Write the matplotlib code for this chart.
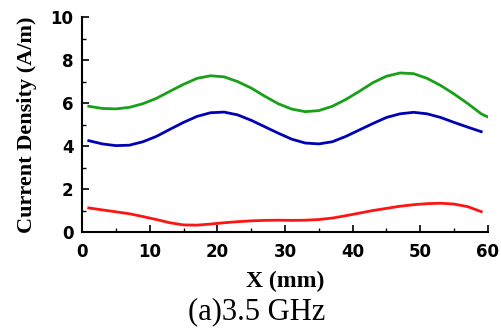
import matplotlib
matplotlib.use('Agg')
import matplotlib.pyplot as plt
from matplotlib.ticker import MultipleLocator

# values (X in mm, current density in A/m)
x = [1, 3, 5, 7, 9, 11, 13, 15, 17, 19, 21, 23, 25, 27, 29, 31, 33, 35, 37, 39,
     41, 43, 45, 47, 49, 51, 53, 55, 57, 59, 60]
green = [5.85, 5.75, 5.73, 5.80, 5.97, 6.22, 6.55, 6.87, 7.15, 7.27, 7.22, 7.00,
         6.70, 6.32, 5.97, 5.72, 5.60, 5.65, 5.85, 6.17, 6.55, 6.95, 7.25, 7.40,
         7.37, 7.15, 6.82, 6.42, 5.98, 5.50, 5.35]
blue = [4.25, 4.10, 4.02, 4.04, 4.20, 4.45, 4.78, 5.10, 5.38, 5.55, 5.58, 5.45,
        5.20, 4.90, 4.60, 4.32, 4.14, 4.10, 4.20, 4.45, 4.75, 5.05, 5.33, 5.50,
        5.57, 5.50, 5.33, 5.10, 4.88, 4.67]
red = [1.12, 1.03, 0.94, 0.85, 0.72, 0.58, 0.43, 0.33, 0.32, 0.37, 0.43, 0.48,
       0.52, 0.54, 0.55, 0.54, 0.55, 0.58, 0.65, 0.76, 0.88, 1.00, 1.10, 1.20,
       1.27, 1.32, 1.34, 1.30, 1.18, 0.95]

tick_font = {'family': 'DejaVu Sans', 'weight': 'bold', 'size': 12}
label_font = {'family': 'Liberation Serif', 'weight': 'bold', 'size': 16}

fig = plt.figure(figsize=(5.01, 3.29), dpi=100)
ax = fig.add_axes([0.1637, 0.2948, 0.8103, 0.6532])

ax.plot(x, green, color='#18a018', lw=2)
ax.plot(x[:len(blue)], blue, color='#0000b4', lw=2)
ax.plot(x[:len(red)], red, color='#ff1414', lw=2)

ax.set_xlim(0, 60)
ax.set_ylim(0, 10)
ax.xaxis.set_major_locator(MultipleLocator(10))
ax.xaxis.set_minor_locator(MultipleLocator(5))
ax.yaxis.set_major_locator(MultipleLocator(2))
ax.yaxis.set_minor_locator(MultipleLocator(1))

for s in ['top', 'right']:
    ax.spines[s].set_visible(False)
for s in ['left', 'bottom']:
    ax.spines[s].set_linewidth(1.5)

ax.tick_params(which='major', direction='in', length=5, width=1.2)
ax.tick_params(which='minor', direction='in', length=3, width=1.0)
ax.tick_params(axis='x', pad=8)
ax.tick_params(axis='y', pad=6)
for lab in ax.get_xticklabels() + ax.get_yticklabels():
    lab.set_fontproperties(matplotlib.font_manager.FontProperties(**tick_font))

ax.set_ylabel('Current Density (A/m)', fontdict=label_font, labelpad=10)
ax.set_xlabel('X (mm)', fontdict={**label_font, 'size': 17}, labelpad=7)

fig.text(0.513, 0.008, '(a)3.5 GHz', family='Liberation Serif', size=22,
         ha='center', va='bottom')

plt.savefig('out.png', dpi=100)
plt.close()
